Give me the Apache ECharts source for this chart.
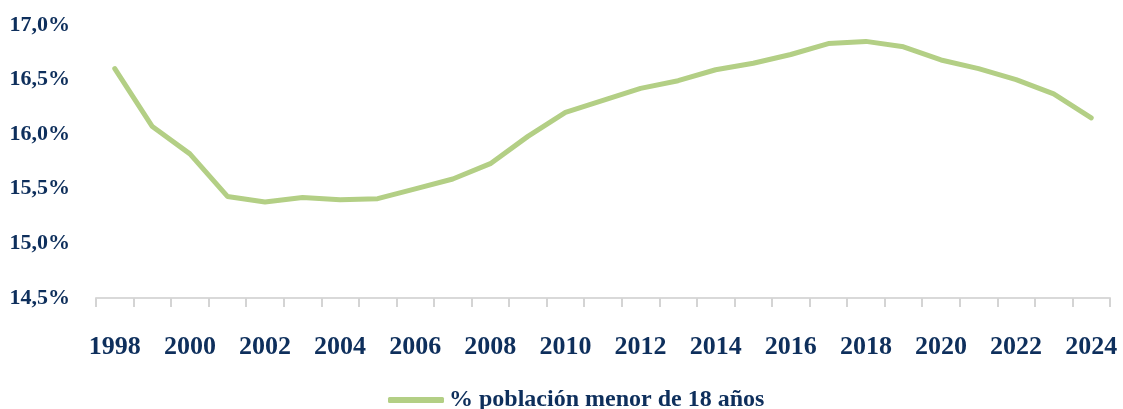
<!DOCTYPE html>
<html>
<head>
<meta charset="utf-8">
<script src="https://cdn.jsdelivr.net/npm/echarts@6/dist/echarts.min.js"></script>
<style>
  html, body { margin: 0; padding: 0; background: #fff; }
  #chart { width: 1123px; height: 409px; }
</style>
</head>
<body>
<div id="chart"></div>
<script>
var years = ['1998', '1999', '2000', '2001', '2002', '2003', '2004', '2005', '2006', '2007',
  '2008', '2009', '2010', '2011', '2012', '2013', '2014', '2015', '2016', '2017',
  '2018', '2019', '2020', '2021', '2022', '2023', '2024'];
var menores18 = [16.60, 16.07, 15.82, 15.43, 15.38, 15.42, 15.40, 15.41, 15.50, 15.59,
  15.73, 15.98, 16.20, 16.31, 16.42, 16.49, 16.59, 16.65, 16.73, 16.83,
  16.85, 16.80, 16.68, 16.60, 16.50, 16.37, 16.15];
var serieName = '% población menor de 18 años';

var navy = '#0e2f5c';
var serif = '"Liberation Serif", "DejaVu Serif", serif';

var chart = echarts.init(document.getElementById('chart'));
chart.setOption({
  animation: false,
  grid: { left: 96, right: 13, top: 25, bottom: 111 },
  legend: {
    data: [serieName],
    top: 383,
    left: 383,
    icon: 'roundRect',
    itemWidth: 56,
    itemHeight: 6,
    itemGap: 6,
    textStyle: { color: navy, fontFamily: serif, fontWeight: 'bold', fontSize: 24 }
  },
  xAxis: {
    type: 'category',
    data: years,
    boundaryGap: true,
    axisLine: { lineStyle: { color: '#d9d9d9', width: 2 } },
    axisTick: { show: true, interval: 0, length: 9, lineStyle: { color: '#d4d4d4', width: 2 } },
    axisLabel: {
      interval: 1,
      margin: 36,
      color: navy,
      fontFamily: serif,
      fontWeight: 'bold',
      fontSize: 26
    }
  },
  yAxis: {
    type: 'value',
    min: 14.5,
    max: 17,
    interval: 0.5,
    axisLine: { show: false },
    axisTick: { show: false },
    splitLine: { show: false },
    axisLabel: {
      margin: 26,
      color: navy,
      fontFamily: serif,
      fontWeight: 'bold',
      fontSize: 22,
      formatter: function (v) { return v.toFixed(1).replace('.', ',') + '%'; }
    }
  },
  series: [{
    name: serieName,
    type: 'line',
    data: menores18,
    symbol: 'none',
    lineStyle: { color: '#b3cf85', width: 5, cap: 'round', join: 'round' },
    itemStyle: { color: '#b3cf85' }
  }]
});
</script>
</body>
</html>
